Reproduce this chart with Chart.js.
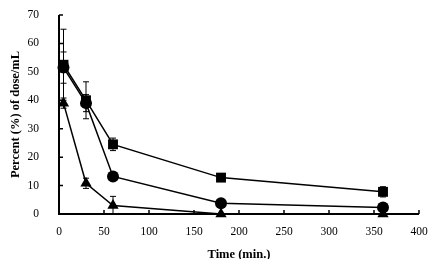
<!DOCTYPE html>
<html>
<head>
<meta charset="utf-8">
<script src="https://cdn.jsdelivr.net/npm/chart.js@4.4.1/dist/chart.umd.min.js"></script>
<style>
  html, body { margin: 0; padding: 0; background: #fff; }
</style>
</head>
<body>
<canvas id="c" width="437" height="259"></canvas>
<script>
// time points (min.)
const times = [5, 30, 60, 180, 360];

// series values (% of dose/mL) and their error bars
const squareVals = [52.5, 40.0, 24.5, 12.8, 7.8];
const squareErr  = [12.5, 6.5, 2.2, 1.0, 1.8];
const circleVals = [51.5, 39.0, 13.2, 3.8, 2.3];
const circleErr  = [5.5, 3.0, 0.8, 0.5, 0.5];
const triVals    = [39.0, 10.8, 3.0, 0.0, 0.0];
const triErr     = [1.8, 1.8, 3.2, 0.0, 0.0];

const xTicks = [0, 50, 100, 150, 200, 250, 300, 350, 400];
const yTicks = [0, 10, 20, 30, 40, 50, 60, 70];

const toPts = vals => times.map((t, i) => ({ x: t, y: vals[i] }));

// error bars, axis lines and inward tick marks
const extras = {
  id: "extras",
  afterDatasetsDraw(chart) {
    const { ctx, scales: { x, y } } = chart;
    ctx.save();
    ctx.strokeStyle = "#000";
    ctx.lineWidth = 1;
    chart.data.datasets.forEach(ds => {
      ds.err.forEach((e, i) => {
        if (!e) return;
        const px = x.getPixelForValue(times[i]);
        const top = y.getPixelForValue(ds.data[i].y + e);
        const bot = y.getPixelForValue(Math.max(0, ds.data[i].y - e));
        ctx.beginPath();
        ctx.moveTo(px, top); ctx.lineTo(px, bot);
        ctx.moveTo(px - 3, top); ctx.lineTo(px + 3, top);
        ctx.moveTo(px - 3, bot); ctx.lineTo(px + 3, bot);
        ctx.stroke();
      });
    });
    ctx.lineWidth = 2;
    ctx.beginPath();
    ctx.moveTo(x.left, y.top); ctx.lineTo(x.left, y.bottom); ctx.lineTo(x.right, y.bottom);
    ctx.stroke();
    ctx.lineWidth = 1.5;
    ctx.beginPath();
    yTicks.forEach(v => {
      const py = y.getPixelForValue(v);
      ctx.moveTo(x.left, py); ctx.lineTo(x.left + 4, py);
    });
    xTicks.forEach(v => {
      const px = x.getPixelForValue(v);
      ctx.moveTo(px, y.bottom); ctx.lineTo(px, y.bottom - 4);
    });
    ctx.stroke();
    ctx.restore();
  }
};

const serif = "'Liberation Serif', 'Times New Roman', serif";

new Chart(document.getElementById("c"), {
  type: "scatter",
  data: {
    datasets: [
      { data: toPts(squareVals), err: squareErr, pointStyle: "rect", pointRadius: 7 },
      { data: toPts(circleVals), err: circleErr, pointStyle: "circle", pointRadius: 6 },
      { data: toPts(triVals), err: triErr, pointStyle: "triangle", pointRadius: 6.5 }
    ].map(d => Object.assign(d, {
      showLine: true,
      borderColor: "#000",
      backgroundColor: "#000",
      borderWidth: 1.5,
      pointBorderWidth: 0,
      pointHoverRadius: d.pointRadius,
      clip: false
    }))
  },
  options: {
    responsive: false,
    animation: false,
    layout: { padding: { left: 4, right: 18, top: 15, bottom: -3 } },
    plugins: { legend: { display: false }, tooltip: { enabled: false } },
    scales: {
      x: {
        type: "linear", min: 0, max: 400,
        afterBuildTicks: s => { s.ticks = xTicks.map(v => ({ value: v })); },
        grid: { display: false },
        border: { display: false },
        ticks: { color: "#000", font: { family: serif, size: 11.5 }, padding: 3, maxRotation: 0 },
        title: { display: true, text: "Time (min.)", color: "#000", font: { family: serif, size: 12.5, weight: "bold" }, padding: { top: 12, bottom: 0 } },
        afterFit: s => { s.height = 48; s.paddingLeft = 0; s.paddingRight = 0; }
      },
      y: {
        min: 0, max: 70,
        afterBuildTicks: s => { s.ticks = yTicks.map(v => ({ value: v })); },
        grid: { display: false },
        border: { display: false },
        ticks: { color: "#000", font: { family: serif, size: 11.5 }, padding: 12 },
        title: { display: true, text: "Percent (%) of dose/mL", color: "#000", font: { family: serif, size: 12.5, weight: "bold" }, padding: { bottom: 4 } },
        afterFit: s => { s.width = 55; s.paddingTop = 0; s.paddingBottom = 0; }
      }
    }
  },
  plugins: [extras]
});
</script>
</body>
</html>
